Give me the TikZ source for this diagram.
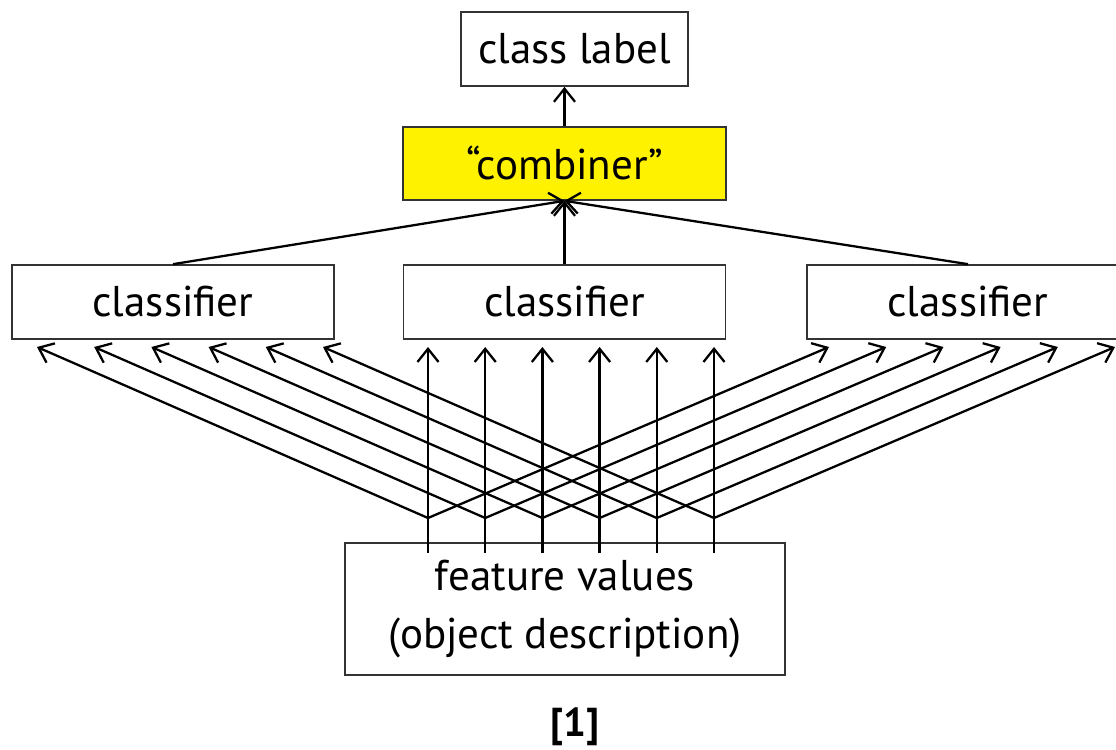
\documentclass[tikz,border=0pt]{standalone}
\usepackage{fontspec}
\setmainfont{PT Sans}
\usetikzlibrary{arrows.meta}
\begin{document}
\begin{tikzpicture}[x=0.02cm,y=-0.02cm,
  box/.style={draw=black!80, line width=0.95pt, inner sep=0pt, align=center,
    font=\fontsize{24.5}{33}\selectfont},
  wire/.style={line width=1.3pt},
  link/.style={wire, -{Straight Barb[length=7.5pt,width=12pt,line width=1.3pt]}}]
\clip (0,0) rectangle (1116,750);

% boxes
\node[box, minimum width=4.54cm, minimum height=1.48cm] (label) at (574.5,49) {class label};
\node[box, fill=yellow, minimum width=6.46cm, minimum height=1.46cm] (comb) at (564.5,163.5) {“combiner”};
\foreach \n/\x in {cl/173, cm/564.5, cr/968}
  \node[box, minimum width=6.44cm, minimum height=1.48cm] (\n) at (\x,302) {classifier};
\node[box, minimum width=8.8cm, minimum height=2.64cm] (feat) at (565,609)
  {feature values\\(object description)};

% combiner to class label, classifiers to combiner
\draw[link] (comb.north) -- (comb.north |- label.south);
\draw[link] (cl.north) -- (comb.south);
\draw[link] (cm.north) -- (comb.south);
\draw[link] (cr.north) -- (comb.south);

% every feature feeds every classifier
\foreach \i in {0,...,5} {
  \pgfmathsetmacro\x{428+57.2*\i}
  \coordinate (f\i) at (\x,553);
  \coordinate (j\i) at (\x,518);
  \coordinate (tl\i) at (\x-391,347);
  \coordinate (tm\i) at (\x,347);
  \coordinate (tr\i) at (\x+401,347);
  \draw[wire] (f\i) -- (j\i);
  \draw[link] (j\i) -- (tl\i);
  \draw[link] (j\i) -- (tm\i);
  \draw[link] (j\i) -- (tr\i);
}

\node[font=\fontsize{23}{27}\selectfont\bfseries] (ref) at (575,727) {[1]};
\end{tikzpicture}
\end{document}
